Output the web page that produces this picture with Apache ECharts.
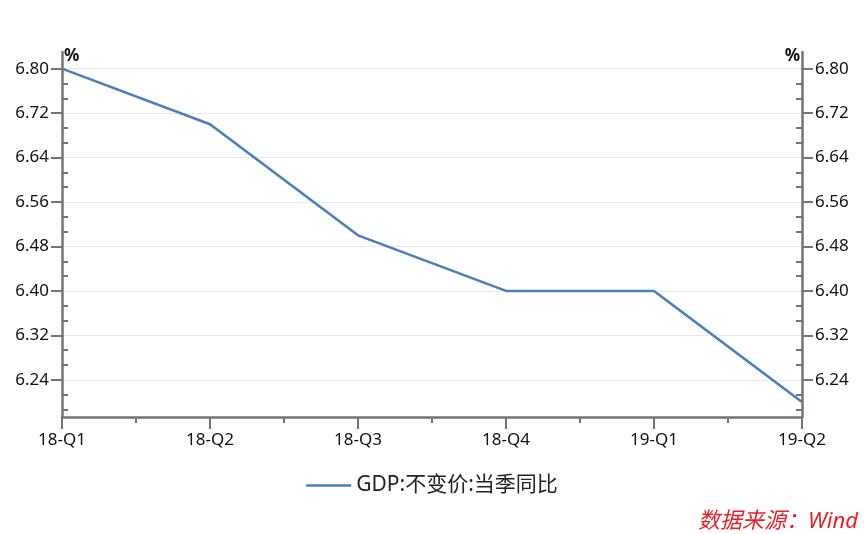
<!DOCTYPE html>
<html>
<head>
<meta charset="utf-8">
<script src="https://cdn.jsdelivr.net/npm/echarts@6/dist/echarts.min.js"></script>
<style>
html,body{margin:0;padding:0;background:#fff;}
#chart{width:864px;height:534px;}
</style>
</head>
<body>
<div id="chart"></div>
<script>
const categories = ['18-Q1', '18-Q2', '18-Q3', '18-Q4', '19-Q1', '19-Q2'];
const gdpValues = [6.8, 6.7, 6.5, 6.4, 6.4, 6.2];
const yTicks = [6.24, 6.32, 6.40, 6.48, 6.56, 6.64, 6.72, 6.80];
const seriesName = 'GDP:不变价:当季同比';
const sourceText = '数据来源：Wind';

const Y_MIN = 6.173, Y_MAX = 6.83;
const FONT = '"Noto Sans", "Noto Sans CJK SC", sans-serif';
const AXIS_COLOR = '#747474';

// minor tick positions: thirds between major ticks
const step = yTicks[1] - yTicks[0];
const yMinor = [];
for (let i = 0; i < yTicks.length; i++) {
  for (let k = 1; k <= 2; k++) {
    const v = +(yTicks[i] - k * step / 3).toFixed(5);
    if (v > Y_MIN) yMinor.push(v);
  }
}

const data = gdpValues.map((v, i) => [i, v]);

function majorAxis(pos) {
  return {
    type: 'value', position: pos, min: Y_MIN, max: Y_MAX,
    name: '%', nameLocation: 'end', nameGap: -4,
    nameTextStyle: {
      color: '#111', fontSize: 17, fontWeight: 'bold', fontFamily: FONT,
      align: pos === 'left' ? 'left' : 'right', verticalAlign: 'middle',
      padding: pos === 'left' ? [0, 0, 0, 2] : [0, 2, 0, 0]
    },
    axisLine: { show: true, lineStyle: { color: AXIS_COLOR, width: 2.5 } },
    axisTick: { show: true, length: 11, inside: false, customValues: yTicks,
      lineStyle: { color: AXIS_COLOR, width: 2 } },
    axisLabel: { show: true, customValues: yTicks, margin: 13,
      formatter: v => Number(v).toFixed(2),
      color: '#111', fontSize: 17, fontFamily: FONT },
    splitLine: { show: pos === 'left', lineStyle: { color: '#e8e8e8', width: 1 } }
  };
}
function minorAxis(pos) {
  return {
    type: 'value', position: pos, min: Y_MIN, max: Y_MAX,
    axisLine: { show: false },
    axisTick: { show: true, length: 6, inside: true, customValues: yMinor,
      lineStyle: { color: AXIS_COLOR, width: 2 } },
    axisLabel: { show: false },
    splitLine: { show: false }
  };
}

const chart = echarts.init(document.getElementById('chart'), null, { renderer: 'canvas' });
chart.setOption({
  backgroundColor: '#fff',
  animation: false,
  grid: { left: 62, right: 62, top: 52, bottom: 117, containLabel: false },
  xAxis: {
    type: 'value', min: 0, max: categories.length - 1, interval: 1,
    axisLine: { show: true, onZero: false, lineStyle: { color: AXIS_COLOR, width: 2.5 } },
    axisTick: { show: true, length: 12, lineStyle: { color: AXIS_COLOR, width: 2 } },
    minorTick: { show: true, splitNumber: 2, length: 6, lineStyle: { color: AXIS_COLOR, width: 2 } },
    axisLabel: { margin: 15, formatter: v => categories[v] || '', color: '#111', fontSize: 17, fontFamily: FONT },
    splitLine: { show: false }
  },
  yAxis: [majorAxis('left'), majorAxis('right'), minorAxis('left'), minorAxis('right')],
  legend: {
    data: [{ name: seriesName, icon: 'rect' }], bottom: 33, left: 'center',
    itemWidth: 45, itemHeight: 2.5, itemGap: 6,
    textStyle: { color: '#222', fontSize: 21, fontFamily: FONT }
  },
  series: [{
    name: seriesName, type: 'line', data: data, yAxisIndex: 0,
    symbol: 'none', lineStyle: { color: '#4a7ebb', width: 2.5 },
    itemStyle: { color: '#4a7ebb' }
  }],
  graphic: [{
    type: 'text', right: 6, bottom: 1,
    style: { text: sourceText, fill: '#e8202a', fontSize: 22, fontStyle: 'italic', fontFamily: FONT }
  }]
});
</script>
</body>
</html>
